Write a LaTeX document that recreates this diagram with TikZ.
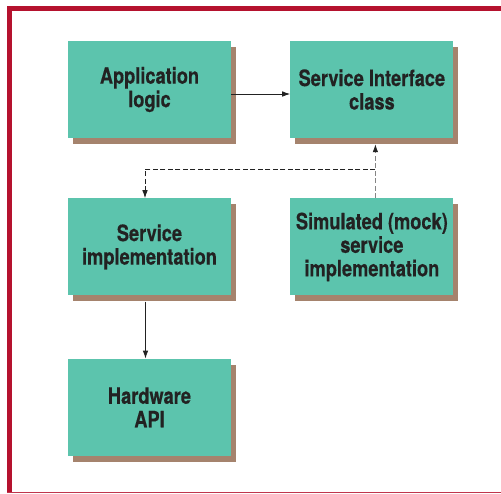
\documentclass[tikz,border=0pt]{standalone}
\usepackage{fontspec}
\newfontfamily\boxfont{TeX Gyre Heros}[FakeStretch=0.81, FakeBold=0.4]
\usetikzlibrary{positioning, shadows, arrows.meta}

\definecolor{frame}{HTML}{B5122E}
\definecolor{boxfill}{HTML}{5CC4AD}
\definecolor{boxshade}{HTML}{A5836D}
\definecolor{ink}{HTML}{222222}

\begin{document}
\begin{tikzpicture}[x=1pt, y=1pt,
    node distance=60pt and 59pt,
    block/.style={fill=boxfill, minimum width=163pt, minimum height=97pt,
        inner sep=0pt, align=center, text=ink,
        font=\boxfont\bfseries\fontsize{22.5}{23.5}\selectfont,
        drop shadow={shadow xshift=5pt, shadow yshift=-6pt, fill=boxshade, opacity=1}},
    link/.style={draw=ink, line width=0.8pt, -{Latex[length=8pt, width=5.5pt, color=ink]}},
    dashlink/.style={link, dash pattern=on 5pt off 2.5pt}]
    \useasboundingbox (0,0) rectangle (501,-493);

    % frame: thick bars on top and left, a thin rule at the bottom
    \fill[frame] (7,-6) rectangle (501,-11);
    \fill[frame] (7,-6) rectangle (12,-492.5);
    \fill[frame!85!white] (7,-491.5) rectangle (501,-493);

    \node (app) [block] at (149.5,-89.5) {Application\\logic};
    \node (iface) [block, right=of app] {Service Interface\\class};
    \node (impl) [block, below=of app] {Service\\implementation};
    \node (mock) [block, below=of iface] {Simulated (mock)\\service\\implementation};
    \node (hw) [block, below=63pt of impl] {Hardware\\API};

    \coordinate (split) at ([xshift=3.5pt, yshift=29pt]mock.north);

    \draw[link] ([yshift=-4.5pt]app.east) -- ([yshift=-4.5pt]iface.west);
    \draw[dashlink, draw=ink!55] ([xshift=3.5pt]mock.north) -- ([xshift=3.5pt, yshift=-6pt]iface.south);
    \draw[dashlink] (split) -| ([xshift=-4.5pt]impl.north);
    \draw[link] ([xshift=-4pt, yshift=-6pt]impl.south) -- ([xshift=-4pt]hw.north);
\end{tikzpicture}
\end{document}
